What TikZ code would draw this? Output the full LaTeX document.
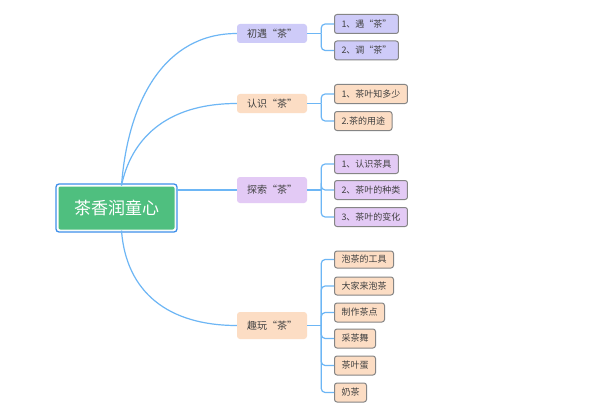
\documentclass[tikz,border=0pt]{standalone}
\usepackage{fontspec}
\setmainfont{Noto Sans CJK SC}
\begin{document}
\begin{tikzpicture}[x=1pt,y=-1pt,
  conn/.style={draw=linkblue,line width=1.2pt},
  branch/.style={rounded corners=3pt,minimum width=70pt,text=txt,font=\fontsize{10}{11}\selectfont,inner sep=0pt},
  leaf/.style={anchor=west,rounded corners=2.5pt,draw=leafgray,line width=1pt,minimum height=19pt,inner xsep=7pt,inner ysep=0pt,text=txt,font=\fontsize{9}{10}\selectfont}
]
\definecolor{linkblue}{HTML}{6DB6F5}
\definecolor{txt}{HTML}{404040}
\definecolor{leafgray}{HTML}{858585}
\definecolor{lav}{HTML}{CECBF8}
\definecolor{peach}{HTML}{FCDDC4}
\definecolor{lilac}{HTML}{E3CAF5}
\definecolor{cgreen}{HTML}{4FBF7F}
\definecolor{cblue}{HTML}{3E8FEA}
\useasboundingbox[fill=white] (0,0) rectangle (600,412);

% central node
\node[fill=cgreen,draw=white,line width=1pt,rounded corners=2pt,minimum width=117pt,minimum height=44pt,text=white,font=\fontsize{17}{18}\selectfont,inner sep=0pt] (c) at (116.5,208) {茶香润童心};
\draw[cblue,line width=1.3pt,rounded corners=3pt] ([shift={(-1.5pt,1.5pt)}]c.north west) rectangle ([shift={(1.5pt,-1.5pt)}]c.south east);

% branches
\node[branch,fill=lav,minimum height=19pt] (b1) at (272,33.5) {初遇“茶”};
\node[branch,fill=peach,minimum height=19pt] (b2) at (272,103.5) {认识“茶”};
\node[branch,fill=lilac,minimum height=26pt] (b3) at (272,190) {探索“茶”};
\node[branch,fill=peach,minimum height=27pt] (b4) at (272,325.5) {趣玩“茶”};

\coordinate (t1) at ([xshift=5pt]c.north);
\coordinate (t2) at ([xshift=5pt]c.south);
\draw[conn] (t1) .. controls (128,100) and (165,33.5) .. (b1.west);
\draw[conn] (t1) .. controls (131,140) and (165,103.5) .. (b2.west);
\draw[conn] (c.east |- b3.west) -- (b3.west);
\draw[conn] (t2) .. controls (126,292) and (168,325.5) .. (b4.west);

% leaves
\node[leaf,fill=lav] (l11) at (334,24) {1、遇“茶”};
\node[leaf,fill=lav] (l12) at (334,50.5) {2、调“茶”};
\node[leaf,fill=peach] (l21) at (334,94) {1、茶叶知多少};
\node[leaf,fill=peach] (l22) at (334,121) {2.茶的用途};
\node[leaf,fill=lilac] (l31) at (334,164) {1、认识茶具};
\node[leaf,fill=lilac] (l32) at (334,190) {2、茶叶的种类};
\node[leaf,fill=lilac] (l33) at (334,217) {3、茶叶的变化};
\node[leaf,fill=peach,minimum height=17pt] (l41) at (334,259.5) {泡茶的工具};
\node[leaf,fill=peach,minimum height=18pt] (l42) at (334,286) {大家来泡茶};
\node[leaf,fill=peach] (l43) at (334,312.5) {制作茶点};
\node[leaf,fill=peach] (l44) at (334,338.5) {采茶舞};
\node[leaf,fill=peach] (l45) at (334,365.5) {茶叶蛋};
\node[leaf,fill=peach] (l46) at (334,392.5) {奶茶};

\coordinate (s1) at ([xshift=14pt]b1.east);
\coordinate (s2) at ([xshift=14pt]b2.east);
\coordinate (s3) at ([xshift=14pt]b3.east);
\coordinate (s4) at ([xshift=14pt]b4.east);
\draw[conn] (b1.east) -- (s1);
\draw[conn] (b2.east) -- (s2);
\draw[conn] (b3.east) -- (s3);
\draw[conn] (b4.east) -- (s4);
\foreach \s/\l in {s1/l11,s1/l12,s2/l21,s2/l22,s3/l31,s3/l32,s3/l33,s4/l41,s4/l42,s4/l43,s4/l44,s4/l45,s4/l46}
  \draw[conn,rounded corners=4pt] (\s) |- (\l.west);
\end{tikzpicture}
\end{document}
